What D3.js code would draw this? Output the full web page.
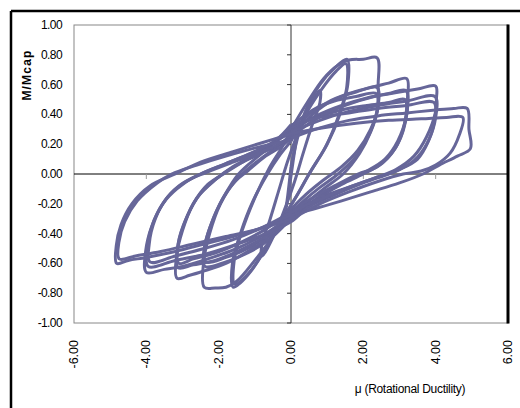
<!DOCTYPE html>
<html>
<head>
<meta charset="utf-8">
<script src="https://cdn.jsdelivr.net/npm/d3@7"></script>
<style>
  body { margin: 0; background: #fff; }
  text { font-family: "Liberation Sans", Arial, sans-serif; fill: #000; }
</style>
</head>
<body>
<div id="chart"></div>
<script>
var margin = { top: 25, right: 12, bottom: 85, left: 74 };
var width = 520, height = 408;

var xTicks = [-6, -4, -2, 0, 2, 4, 6];
var yTicks = [-1, -0.8, -0.6, -0.4, -0.2, 0, 0.2, 0.4, 0.6, 0.8, 1];

// hysteresis loops, [mu, M/Mcap]
var cycle0 = [[0,0],[0.08,0.15],[0.18,0.3],[0.12,0.2],[0.02,0.02],[-0.08,-0.15],[-0.18,-0.3],[-0.12,-0.2],[0,0.02],[0.1,0.18],[0.22,0.34],[0.14,0.22],[0.02,0.02],[-0.1,-0.18],[-0.2,-0.32],[-0.12,-0.2],[0,0.05]];
var cycle1 = [[0,0.05],[0.25,0.3],[0.5,0.45],[0.8,0.56],[0.8,0.48],[0.6,0.34],[0.35,0.15],[0.1,-0.05],[-0.15,-0.22],[-0.45,-0.4],[-0.8,-0.55],[-0.8,-0.46],[-0.6,-0.32],[-0.35,-0.12],[-0.1,0.08],[0.15,0.25]];
var cycleA1 = [[0.15,0.25],[0.45,0.45],[0.8,0.6],[1.2,0.71],[1.55,0.77],[1.57,0.6],[1.35,0.4],[1.0,0.2],[0.55,0.02],[0.15,-0.15],[-0.3,-0.33],[-0.7,-0.5],[-1.1,-0.65],[-1.4,-0.73],[-1.6,-0.76],[-1.62,-0.6],[-1.4,-0.4],[-1.05,-0.18],[-0.65,0.0],[-0.3,0.13],[0,0.22]];
var cycleA2 = [[0,0.22],[0.4,0.4],[0.85,0.57],[1.25,0.69],[1.52,0.74],[1.54,0.58],[1.3,0.38],[0.95,0.18],[0.5,0.0],[0.1,-0.17],[-0.35,-0.35],[-0.75,-0.52],[-1.15,-0.66],[-1.55,-0.74],[-1.57,-0.58],[-1.35,-0.38],[-1.0,-0.16],[-0.6,0.04],[-0.25,0.18],[0,0.3]];
var cycleB1 = [[0,0.3],[0.45,0.48],[0.9,0.64],[1.3,0.73],[1.6,0.765],[2.0,0.77],[2.38,0.78],[2.41,0.6],[2.4,0.44],[2.2,0.3],[1.85,0.16],[1.4,0.05],[0.9,-0.04],[0.4,-0.14],[0,-0.24],[-0.5,-0.42],[-1.0,-0.58],[-1.5,-0.72],[-1.8,-0.76],[-2.1,-0.765],[-2.4,-0.76],[-2.42,-0.6],[-2.25,-0.4],[-1.95,-0.2],[-1.55,-0.05],[-1.2,0.02],[-0.7,0.12],[-0.3,0.18],[0,0.24]];
var cycleB2 = [[0,0.24],[0.6,0.4],[1.2,0.5],[1.8,0.55],[2.38,0.58],[2.4,0.44],[2.2,0.28],[1.9,0.14],[1.44,0.0],[0.9,-0.1],[0.4,-0.2],[0,-0.3],[-0.6,-0.44],[-1.2,-0.53],[-1.8,-0.59],[-2.38,-0.62],[-2.4,-0.5],[-2.2,-0.33],[-1.85,-0.15],[-1.45,0.0],[-0.9,0.12],[-0.4,0.22],[0,0.32]];
var cycleB3 = [[0,0.32],[0.6,0.43],[1.2,0.49],[1.8,0.52],[2.36,0.54],[2.38,0.43],[2.15,0.26],[1.8,0.12],[1.3,0.0],[0.8,-0.09],[0.35,-0.18],[0,-0.26],[-0.6,-0.4],[-1.2,-0.5],[-1.8,-0.56],[-2.36,-0.59],[-2.38,-0.48],[-2.15,-0.3],[-1.8,-0.13],[-1.35,0.0],[-0.85,0.1],[-0.4,0.18],[0,0.26]];
var cycleC1 = [[0,0.26],[0.5,0.4],[1.0,0.48],[1.6,0.54],[2.2,0.58],[2.7,0.61],[3.2,0.64],[3.22,0.5],[3.2,0.4],[2.95,0.22],[2.6,0.1],[2.1,0.02],[1.6,-0.04],[1.0,-0.12],[0.5,-0.2],[0,-0.28],[-0.6,-0.42],[-1.2,-0.52],[-1.8,-0.6],[-2.4,-0.65],[-2.8,-0.68],[-3.15,-0.7],[-3.17,-0.56],[-3.0,-0.38],[-2.7,-0.2],[-2.3,-0.07],[-1.8,0.01],[-1.2,0.1],[-0.6,0.19],[0,0.29]];
var cycleC2 = [[0,0.29],[0.7,0.39],[1.4,0.46],[2.1,0.51],[2.7,0.54],[3.18,0.56],[3.2,0.4],[2.95,0.2],[2.5,0.07],[2.0,0.0],[1.4,-0.07],[0.7,-0.17],[0,-0.31],[-0.7,-0.42],[-1.4,-0.51],[-2.1,-0.58],[-2.7,-0.61],[-3.12,-0.63],[-3.14,-0.5],[-2.95,-0.33],[-2.6,-0.16],[-2.1,-0.04],[-1.6,0.05],[-1.0,0.13],[-0.5,0.21],[0,0.31]];
var cycleC3 = [[0,0.31],[0.7,0.38],[1.4,0.43],[2.1,0.46],[2.7,0.48],[3.15,0.5],[3.17,0.38],[2.9,0.18],[2.4,0.05],[1.85,0.0],[1.2,-0.08],[0.6,-0.16],[0,-0.25],[-0.7,-0.37],[-1.4,-0.46],[-2.1,-0.53],[-2.7,-0.57],[-3.1,-0.6],[-3.12,-0.47],[-2.9,-0.3],[-2.5,-0.13],[-2.0,-0.02],[-1.5,0.06],[-0.9,0.13],[-0.4,0.19],[0,0.25]];
var cycleD1 = [[0,0.25],[0.7,0.37],[1.5,0.46],[2.3,0.52],[3.0,0.55],[3.5,0.57],[4.0,0.59],[4.02,0.5],[4.0,0.42],[3.75,0.25],[3.4,0.12],[2.9,0.03],[2.4,-0.02],[1.7,-0.08],[1.0,-0.14],[0.5,-0.2],[0,-0.28],[-0.7,-0.4],[-1.5,-0.5],[-2.3,-0.57],[-3.0,-0.62],[-3.5,-0.64],[-4.0,-0.66],[-4.02,-0.52],[-3.85,-0.35],[-3.55,-0.2],[-3.1,-0.08],[-2.5,0.0],[-1.8,0.07],[-1.1,0.14],[-0.5,0.21],[0,0.28]];
var cycleD2 = [[0,0.28],[0.8,0.36],[1.6,0.42],[2.4,0.46],[3.2,0.49],[3.98,0.52],[4.0,0.38],[3.8,0.22],[3.5,0.1],[3.0,0.03],[2.7,0.0],[2.0,-0.06],[1.2,-0.14],[0.5,-0.22],[0,-0.32],[-0.8,-0.41],[-1.6,-0.48],[-2.4,-0.54],[-3.2,-0.58],[-3.95,-0.62],[-3.97,-0.48],[-3.8,-0.32],[-3.45,-0.17],[-3.0,-0.07],[-2.5,0.0],[-1.8,0.07],[-1.0,0.15],[-0.4,0.23],[0,0.33]];
var cycleD3 = [[0,0.33],[0.8,0.38],[1.6,0.41],[2.4,0.44],[3.2,0.46],[3.95,0.48],[3.97,0.36],[3.75,0.2],[3.4,0.09],[2.9,0.02],[2.4,-0.02],[1.7,-0.08],[1.0,-0.15],[0.4,-0.21],[0,-0.26],[-0.8,-0.36],[-1.6,-0.44],[-2.4,-0.5],[-3.2,-0.55],[-3.9,-0.59],[-3.92,-0.47],[-3.75,-0.3],[-3.4,-0.15],[-2.9,-0.05],[-2.35,0.01],[-1.6,0.08],[-0.8,0.15],[0,0.24]];
var cycleE1 = [[0,0.24],[0.8,0.31],[1.6,0.36],[2.4,0.39],[3.2,0.41],[4.0,0.43],[4.5,0.44],[4.87,0.44],[4.92,0.3],[4.96,0.17],[4.6,0.12],[4.1,0.06],[3.65,0.0],[3.0,-0.06],[2.2,-0.12],[1.4,-0.18],[0.7,-0.23],[0,-0.28],[-0.8,-0.36],[-1.6,-0.42],[-2.4,-0.47],[-3.2,-0.52],[-4.0,-0.56],[-4.5,-0.58],[-4.82,-0.6],[-4.83,-0.48],[-4.7,-0.34],[-4.4,-0.2],[-3.9,-0.08],[-3.2,0.0],[-2.5,0.08],[-1.6,0.15],[-0.8,0.21],[0,0.27]];
var cycleE2 = [[0,0.27],[0.9,0.31],[1.8,0.34],[2.7,0.36],[3.6,0.37],[4.3,0.38],[4.75,0.38],[4.65,0.26],[4.4,0.14],[4.0,0.06],[3.6,0.02],[3.1,0.0],[2.4,-0.05],[1.6,-0.12],[0.8,-0.2],[0,-0.3],[-0.9,-0.37],[-1.8,-0.42],[-2.7,-0.47],[-3.6,-0.52],[-4.3,-0.55],[-4.75,-0.57],[-4.76,-0.46],[-4.6,-0.32],[-4.25,-0.18],[-3.7,-0.06],[-3.3,0.0],[-2.6,0.06],[-1.8,0.12],[-0.9,0.18],[0,0.23]];

var cycles = [cycle0, cycle1, cycleA1, cycleA2, cycleB1, cycleB2, cycleB3, cycleC1, cycleC2, cycleC3, cycleD1, cycleD2, cycleD3, cycleE1, cycleE2];

var svg = d3.select("#chart").append("svg")
    .attr("width", width)
    .attr("height", height);

var x = d3.scaleLinear().domain([-6, 6]).range([margin.left, width - margin.right]);
var y = d3.scaleLinear().domain([-1, 1]).range([height - margin.bottom, margin.top]);

// outer frame (only left and top visible)
svg.append("line").attr("x1", 11).attr("y1", 11).attr("x2", 11).attr("y2", height)
    .attr("stroke", "#000").attr("stroke-width", 2.5);
svg.append("line").attr("x1", 11).attr("y1", 11).attr("x2", width).attr("y2", 11)
    .attr("stroke", "#000").attr("stroke-width", 2.5);

// plot area border
svg.append("rect")
    .attr("x", x(-6)).attr("y", y(1))
    .attr("width", x(6) - x(-6)).attr("height", y(-1) - y(1))
    .attr("fill", "none").attr("stroke", "#888").attr("stroke-width", 1);
svg.append("line").attr("x1", x(6)).attr("x2", x(6)).attr("y1", y(1) - 0.5).attr("y2", y(-1) + 0.5)
    .attr("stroke", "#000").attr("stroke-width", 3);

// zero axes
svg.append("line").attr("x1", x(-6)).attr("x2", x(6)).attr("y1", y(0)).attr("y2", y(0))
    .attr("stroke", "#000").attr("stroke-width", 1);
svg.append("line").attr("x1", x(0)).attr("x2", x(0)).attr("y1", y(1)).attr("y2", y(-1))
    .attr("stroke", "#333").attr("stroke-width", 1);

// ticks on the zero axes
svg.selectAll(".ytick").data(yTicks).enter().append("line")
    .attr("x1", x(0) - 4).attr("x2", x(0))
    .attr("y1", function(d) { return y(d); }).attr("y2", function(d) { return y(d); })
    .attr("stroke", "#333");
svg.selectAll(".xtick").data(xTicks.slice(1, -1)).enter().append("line")
    .attr("x1", function(d) { return x(d); }).attr("x2", function(d) { return x(d); })
    .attr("y1", y(0)).attr("y2", y(0) + 5)
    .attr("stroke", "#999");

// hysteresis curves
var line = d3.line()
    .x(function(d) { return x(d[0]); })
    .y(function(d) { return y(d[1]); })
    .curve(d3.curveCatmullRom.alpha(0.5));

svg.selectAll(".loop").data(cycles).enter().append("path")
    .attr("class", "loop")
    .attr("d", line)
    .attr("fill", "none")
    .attr("stroke", "#666699")
    .attr("stroke-width", 3)
    .attr("stroke-linejoin", "round");

// tick labels (plain hyphen for negatives, as in the original)
var fmt = function(d) { return d3.format(".2f")(d).replace("\u2212", "-"); };
svg.selectAll(".ylabel").data(yTicks).enter().append("text")
    .attr("x", 62).attr("y", function(d) { return y(d); })
    .attr("text-anchor", "end").attr("dominant-baseline", "central")
    .style("font-size", "12px").style("letter-spacing", "-0.6px")
    .text(function(d) { return fmt(d); });

svg.selectAll(".xlabel").data(xTicks).enter().append("text")
    .attr("transform", function(d) { return "translate(" + x(d) + ",340)rotate(-90)"; })
    .attr("text-anchor", "end").attr("dominant-baseline", "central")
    .style("font-size", "12.5px")
    .text(function(d) { return fmt(d); });

// axis titles
svg.append("text")
    .attr("transform", "translate(27,75)rotate(-90)")
    .attr("text-anchor", "middle").attr("dominant-baseline", "central")
    .style("font-size", "12px").style("font-weight", "bold").style("letter-spacing", "1.2px")
    .text("M/Mcap");

svg.append("text")
    .attr("x", 410).attr("y", 393)
    .attr("text-anchor", "middle")
    .style("font-size", "12px").style("letter-spacing", "-0.3px")
    .text("μ (Rotational Ductility)");
</script>
</body>
</html>
